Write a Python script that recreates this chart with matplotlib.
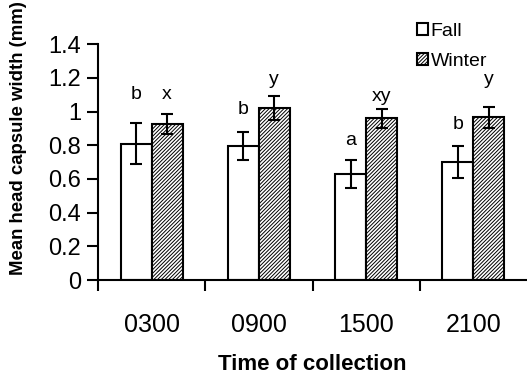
import matplotlib
matplotlib.use("Agg")
import matplotlib.pyplot as plt
import numpy as np

plt.rcParams["font.family"] = ["Liberation Sans", "DejaVu Sans"]
plt.rcParams["hatch.color"] = "#444444"
plt.rcParams["hatch.linewidth"] = 0.7

times = ["0300", "0900", "1500", "2100"]
fall = [0.81, 0.795, 0.63, 0.70]
fall_err = [0.12, 0.085, 0.085, 0.095]
winter = [0.925, 1.02, 0.96, 0.965]
winter_err = [0.06, 0.07, 0.055, 0.06]
fall_letters = ["b", "b", "a", "b"]
winter_letters = ["x", "y", "xy", "y"]
fall_letter_y = [1.10, 1.01, 0.83, 0.925]
winter_letter_y = [1.10, 1.19, 1.09, 1.19]

x = np.arange(len(times))
w = 0.288

fig = plt.figure(figsize=(5.27, 3.77), dpi=100)
ax = fig.add_axes([0.186, 0.257, 0.814, 0.626])

ax.bar(x - w / 2, fall, w, color="white", edgecolor="black", linewidth=1.5,
       label="Fall", zorder=2)
ax.bar(x + w / 2, winter, w, color="white", edgecolor="black", linewidth=1.5,
       hatch="/////////", label="Winter", zorder=2)
ax.errorbar(x - w / 2, fall, yerr=fall_err, fmt="none", ecolor="black",
            elinewidth=1.5, capsize=4, capthick=1.5, zorder=3)
ax.errorbar(x + w / 2, winter, yerr=winter_err, fmt="none", ecolor="black",
            elinewidth=1.5, capsize=4, capthick=1.5, zorder=3)

for i in range(len(times)):
    ax.text(x[i] - w / 2, fall_letter_y[i], fall_letters[i], ha="center",
            va="center", fontsize=14)
    ax.text(x[i] + w / 2, winter_letter_y[i], winter_letters[i], ha="center",
            va="center", fontsize=14)

ax.set_xlim(-0.5, 3.5)
ax.set_ylim(0, 1.4)
ax.set_yticks(np.arange(0, 1.41, 0.2))
ax.set_yticklabels(["0", "0.2", "0.4", "0.6", "0.8", "1", "1.2", "1.4"], fontsize=17)
ax.set_xticks(x)
ax.set_xticklabels(times, fontsize=18)
ax.set_xticks([-0.5, 0.5, 1.5, 2.5], minor=True)
ax.tick_params(axis="x", which="major", length=0, pad=24)
ax.tick_params(axis="x", which="minor", length=8, width=1.5, direction="out")
ax.tick_params(axis="y", length=8, width=1.5, direction="out", pad=4)

for s in ["top", "right"]:
    ax.spines[s].set_visible(False)
for s in ["left", "bottom"]:
    ax.spines[s].set_linewidth(1.5)

ax.set_xlabel("Time of collection", fontsize=16, fontweight="bold")
ax.xaxis.set_label_coords(0.5, -0.315)
ax.set_ylabel("Mean head capsule width (mm)", fontsize=13.4, fontweight="bold")
ax.yaxis.set_label_coords(-0.165, 0.6)

ax.legend(loc="upper left", bbox_to_anchor=(0.725, 1.123), frameon=False,
          fontsize=14, handlelength=0.55, handleheight=0.55, handletextpad=0.15,
          labelspacing=0.68, borderaxespad=0)

fig.savefig("out.png", dpi=100)
